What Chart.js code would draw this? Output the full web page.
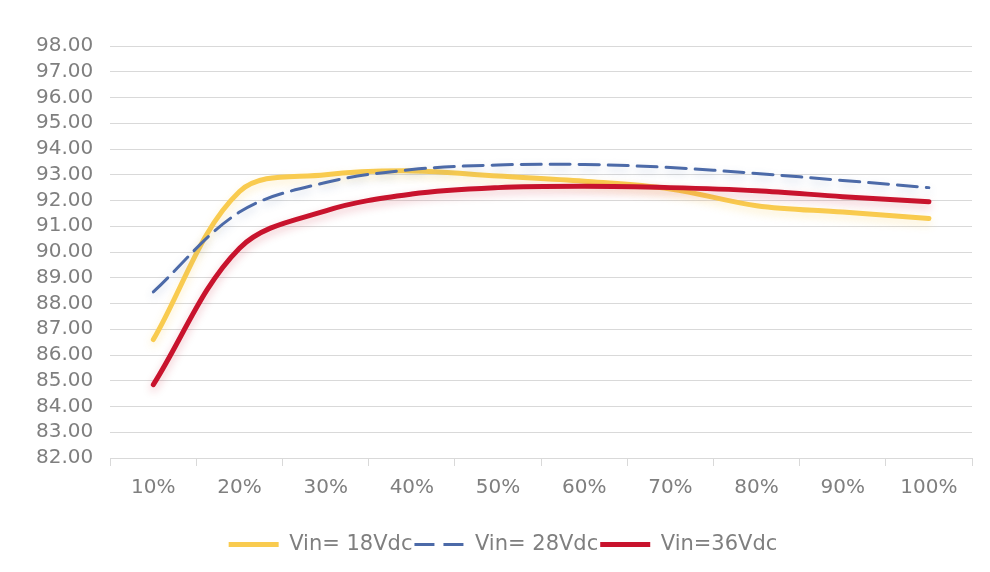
<!DOCTYPE html>
<html lang="en">
<head>
    <meta charset="UTF-8">
    <title>Efficiency vs Load</title>
    <script src="https://cdn.jsdelivr.net/npm/chart.js"></script>
    <style>
        html, body { margin: 0; padding: 0; background: #fff; }
        #wrap { width: 990px; height: 572px; }
    </style>
</head>
<body>
<div id="wrap"><canvas id="grafico"></canvas></div>
<script>
    // dados
    const cargas = ['10%', '20%', '30%', '40%', '50%', '60%', '70%', '80%', '90%', '100%'];
    const vin18 = [86.6, 92.35, 93.0, 93.15, 92.95, 92.75, 92.45, 91.8, 91.55, 91.3];
    const vin28 = [88.45, 91.55, 92.7, 93.2, 93.38, 93.4, 93.28, 93.05, 92.78, 92.5];
    const vin36 = [84.85, 90.15, 91.6, 92.25, 92.5, 92.55, 92.5, 92.38, 92.15, 91.95];
    const nomes = ['Vin= 18Vdc', 'Vin= 28Vdc', 'Vin=36Vdc'];

    const corTexto = '#7f7f7f';
    const corGrade = '#d9d9d9';

    // sombra leve por baixo de cada linha (como no Excel)
    const sombra = {
        id: 'sombra',
        beforeDatasetDraw(chart, args) {
            const ctx = chart.ctx;
            ctx.save();
            ctx.shadowColor = chart.data.datasets[args.index].sombra;
            ctx.shadowBlur = 8;
            ctx.shadowOffsetY = 4;
        },
        afterDatasetDraw(chart) {
            chart.ctx.restore();
        }
    };

    new Chart(document.getElementById('grafico').getContext('2d'), {
        type: 'line',
        data: {
            labels: cargas,
            datasets: [{
                label: nomes[0],
                data: vin18,
                borderColor: '#f9cb4f',
                borderWidth: 5,
                sombra: 'rgba(249,203,79,0.3)',
                order: 3
            }, {
                label: nomes[1],
                data: vin28,
                borderColor: '#4c6aa8',
                borderWidth: 3,
                borderDash: [20, 9],
                sombra: 'rgba(76,106,168,0.25)',
                order: 2
            }, {
                label: nomes[2],
                data: vin36,
                borderColor: '#c8132d',
                borderWidth: 5,
                sombra: 'rgba(200,19,45,0.25)',
                order: 1
            }]
        },
        options: {
            responsive: true,
            maintainAspectRatio: false,
            animation: false,
            layout: { padding: { left: 34, right: 18, top: 46, bottom: 7 } },
            elements: {
                line: { tension: 0.35, fill: false, borderCapStyle: 'round' },
                point: { radius: 0, hoverRadius: 0 }
            },
            scales: {
                x: {
                    offset: true,
                    grid: { offset: true, drawOnChartArea: false, tickLength: 8, color: corGrade },
                    border: { color: corGrade },
                    ticks: { color: corTexto, padding: 10, font: { family: 'DejaVu Sans', size: 20 } },
                    afterFit: (eixo) => { eixo.height += 22; }
                },
                y: {
                    min: 82,
                    max: 98,
                    grid: { color: corGrade, drawTicks: false },
                    border: { display: false },
                    ticks: {
                        stepSize: 1,
                        autoSkip: false,
                        padding: 17,
                        color: corTexto,
                        font: { family: 'DejaVu Sans', size: 20 },
                        callback: v => v.toFixed(2)
                    },
                    afterFit: (eixo) => { eixo.width -= 15; }
                }
            },
            plugins: {
                tooltip: { enabled: false },
                legend: {
                    position: 'bottom',
                    labels: {
                        usePointStyle: true,
                        pointStyleWidth: 50,
                        padding: 2,
                        color: corTexto,
                        font: { family: 'DejaVu Sans', size: 21 },
                        sort: (a, b) => a.datasetIndex - b.datasetIndex,
                        generateLabels(chart) {
                            const itens = Chart.defaults.plugins.legend.labels.generateLabels(chart);
                            itens.forEach(it => {
                                const ds = chart.data.datasets[it.datasetIndex];
                                it.pointStyle = 'line';
                                it.lineWidth = ds.borderWidth;
                                it.lineDash = ds.borderDash || [];
                                it.strokeStyle = ds.borderColor;
                            });
                            return itens;
                        }
                    }
                }
            }
        },
        plugins: [sombra]
    });
</script>
</body>
</html>
